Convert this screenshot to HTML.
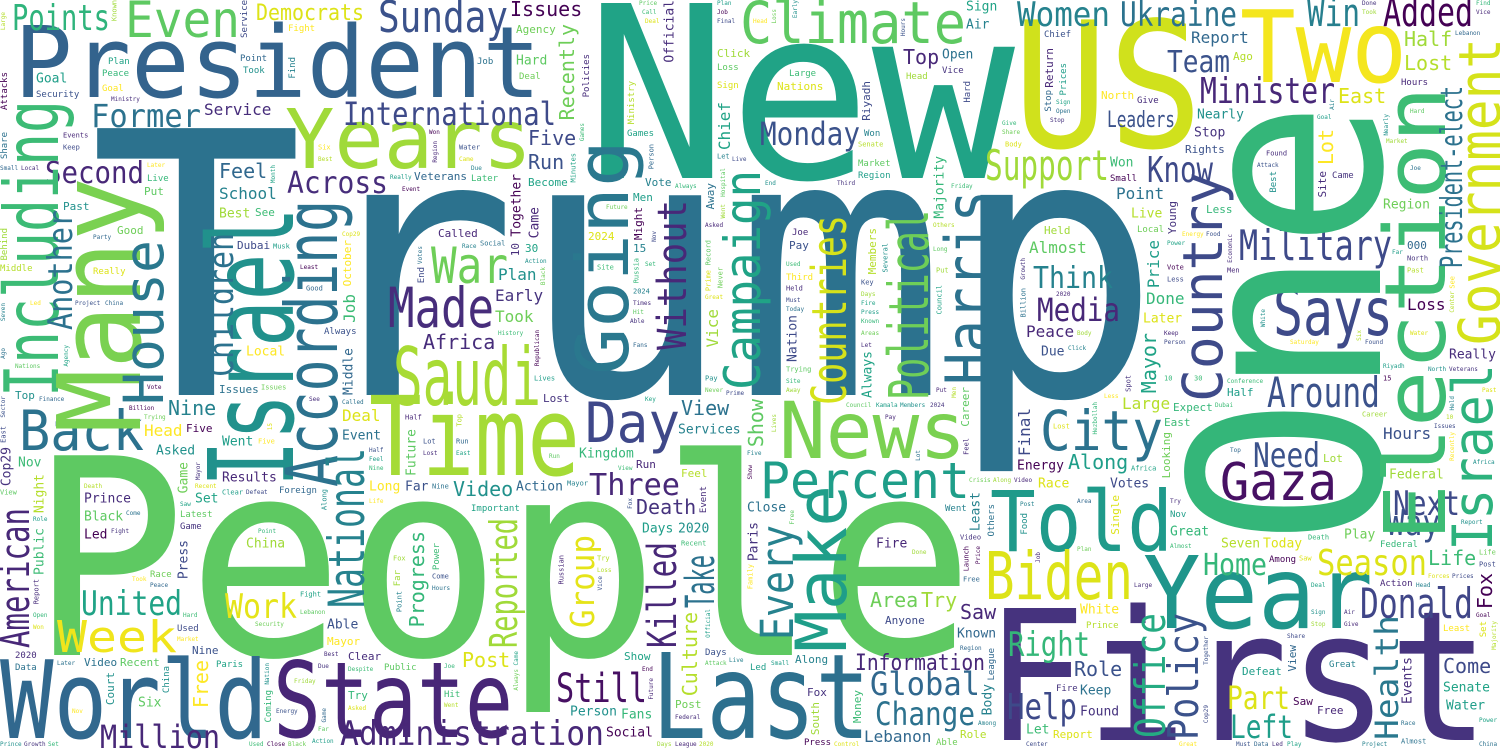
<!DOCTYPE html>
<html><head><meta charset="utf-8"><title>Word Cloud</title>
<style>
html,body{margin:0;padding:0;background:#fff;width:1500px;height:750px;overflow:hidden}
svg{display:block}
text{font-family:"DejaVu Sans Mono","Liberation Mono",monospace}
</style></head>
<body>
<svg id="cloud" xmlns="http://www.w3.org/2000/svg" width="1500" height="750" viewBox="0 0 1500 750">
<rect x="0" y="0" width="1500" height="750" fill="#ffffff"/>
</svg>
<script>
const bigWords=["Trump","People","New","US","Two","First","President","Years","World","State","Last","Time","Saudi","Day","News","Percent","Told","Gaza","Year","Biden","Made","War","Climate","Sunday","Even","Points","Democrats","Former","International","Second","Across","Monday","Support","Minister","Military","Says","Around","Donald","Season","Women","Ukraine","Added","Win","Know","Week","Back","Million","Administration","United","Work","Three","Still","Team","Leaders","Media","Think","City","Need","Next","Way","Right","Help","Left","Part","Home","Global","Change","Information",
"One","Election","Government","President-elect","Israel","Country","Harris","Countries","Political","Make","Every","Office","Policy","Health","Israel","Including","Many","House","According","Going","Campaign","Without","Another","Children","American","National","Reported","Group","Killed","Take"];
const bigX=[89,29,585,1013,1240,985,14,285,0,273,652,369,393,585,779,760,990,1220,1143,985,388,431,740,378,125,12,256,91,343,45,287,760,985,1200,1239,1273,1267,1360,1317,1017,1120,1383,1307,1147,57,19,100,340,81,225,589,556,1167,1107,1037,1033,1040,1253,1393,1387,1008,1007,1230,1227,1203,870,875,855,
1380,1445,1500,1462,1492,1222,990,846,928,846,793,1165,1198,1398,293,58,140,163,337,628,760,686,72,233,29,364,517,594,676,714];
const bigY=[395,655,178,147,82,740,97,168,738,737,738,475,405,442,458,498,551,500,628,599,327,283,43,32,37,30,20,127,125,183,193,145,180,103,260,335,407,618,575,26,26,26,26,182,652,450,748,745,615,618,495,702,72,127,321,288,450,467,515,535,656,719,738,709,575,695,725,670,
546,541,345,268,551,402,385,405,400,652,640,738,740,740,487,397,433,405,487,375,390,350,330,377,648,608,648,628,648,608];
const bigSize=[366,274,240,175,100,181,99,82,108,105,118,110,80,55,78,50,84,52,100,66,55,50,58,44,50,36,22,32,32,30,30,32,42,36,42,66,42,42,36,34,34,40,38,36,44,55,32,34,34,34,30,40,30,22,32,30,55,34,34,36,34,36,32,32,30,32,32,22,
264,85,58,30,55,55,62,48,55,70,45,42,42,32,118,75,115,55,72,72,50,40,34,35,40,50,38,33,40,40];
const bigLen=[1073,946,430,190,167,505,527,247,268,240,218,211,148,95,187,210,183,117,230,148,106,77,226,130,115,98,108,110,213,99,101,100,124,135,153,120,113,113,110,93,117,90,53,66,120,125,120,264,101,72,91,91,63,68,83,80,123,67,67,53,82,70,63,63,64,110,100,130,
446,455,307,182,187,230,195,190,190,167,115,125,127,125,280,297,256,165,287,235,220,150,120,144,140,160,130,93,106,53];
const bigRot=[0,0,0,0,0,0,0,0,0,0,0,0,0,0,0,0,0,0,0,0,0,0,0,0,0,0,0,0,0,0,0,0,0,0,0,0,0,0,0,0,0,0,0,0,0,0,0,0,0,0,0,0,0,0,0,0,0,0,0,0,0,0,0,0,0,0,0,0,
1,1,1,1,1,1,1,1,1,1,1,1,1,1,1,1,1,1,1,1,1,1,1,1,1,1,1,1,1,1];
const bigColor=["#2c728e","#5ec962","#20a386","#d0e11c","#f4e61e","#46337e","#33638d","#a0da39","#31688e","#482677","#2d708e","#a5db36","#a8db34","#3f4889","#7ad151","#1f9e89","#1f9a8a","#471164","#1f958b","#dde318","#472d7b","#6ece58","#5ec962","#3b528b","#5ec962","#2fb47c","#dde318","#2c728e","#3e4a89","#482878","#472d7b","#3b528b","#a0da39","#482878","#3e4a89","#3e4a89","#3b528b","#404688","#dde318","#26828e","#2c728e","#440154","#277f8e","#3e4a89","#f0e51c","#2c728e","#482878","#482878","#20a386","#e5e419","#482878","#471063","#3b528b","#3b528b","#482878","#26828e","#2c728e","#3b528b","#3e4a89","#3b528b","#35b779","#3e4a89","#1f9e89","#dde318","#35b779","#31688e","#2c728e","#482878",
"#34b679","#3dbc74","#d5e21a","#2c728e","#2db27d","#3e4a89","#2c728e","#d5e21a","#6ece58","#1f9e89","#26828e","#25ab82","#3b528b","#2a788e","#21918c","#3cbb75","#7ad151","#2a788e","#2c728e","#2a788e","#20a386","#482878","#2c728e","#2c728e","#482878","#26828e","#a0da39","#e5e419","#482878","#2c728e"];
const fillWords=["Interview","Challenges","Issues","Career","Contact","Recently","Half","Top","Business","Series","Lost","Expect","Opening","East","Five","Looking","Wrote","Lot","Run","Feel","Africa","Single","Anyone","Mayor","Royal","Matter","Nine","View","Clear","Show","Crisis","Along","Video","Death","Recent","Progress","Defeat","Launch","Life","Court","Different","Fox","Area","Russian","Try","Money","Saw","Culture","Post","Family","Come","South","Democratic","Free","Role","Report","Continue","Service","Fight","Chief","School","Point","Almost","Policies","Emissions","Price","Plan","Early","Done","Find","Call","Job","Place","Loss","Forces","Prices","Took","Vice","Peace","Large","Efforts","Attacks","Deal","Final","Head","Hours","Lebanon","Ministry","Thousands","Official","Sign","Air","Open","Hard","Goal","Especially","Security","Nearly","Florida","Stop","Give","Majority","Police","Games","Won","Share","Market","Together","Crucial","Region","Director","Best","Company","Came","Live","Digital","Later","Attack","Small","Nation","Local","Month","Due","Behind","Joe","Middle","Despite","Hospital","Really","End","Third","Always","Services","Foreign","Friday","Event","Important","Future","Officials","Went","Asked","Others","Latest","Cop29","Kingdom","Nov","Energy","Food","Party","Game","Federal","Economic","Results","Power","Among","Night","Race","Votes","Long","Far","Action","Washington","Prince","Growth","Number","Set","Used","Least","Close","Black","Days","League","2020","Paris","Control","Center","Great","Must","Data","Public","Led","Play","Project","China","Leader","Times","Fire","Seven","Today","Coming","Hit","Press","Months","White","Able","Known","History","Events","Cultural","Republican","Senate","Areas","Research","Body","Keep","Six","Water","Person","Saturday","Thursday","Found","Statement","Fans","Minutes","Let","Victory","Social","Agency","Border","Record","Click","Return","Musk","Ago","Nations","Several","Whether","Riyadh","North","Rights","Veterans","Russia","Increase","Site","Conference","Become","Vote","Never","Better","Away","Put","Men","Past","Prime","Field","Young","Less","Sector","Finance","See","Key","Might","Good","Held","Called","Council","Kamala","Members","2024","Hezbollah","Dubai","Billion","Trying","October","Central","Lives","Pay","Spot","000","10","30","15"];
const viridis=["#440154","#482878","#3e4a89","#31688e","#26828e","#1f9e89","#35b779","#6ece58","#b5de2b","#fde725","#472d7b","#2c728e","#21918c","#3cbb75","#a0da39","#dde318","#3b528b","#20a386","#5ec962","#46337e"];

const NS="http://www.w3.org/2000/svg";
const svg=document.getElementById('cloud');
const cv=document.createElement('canvas');cv.width=1500;cv.height=750;
const ctx=cv.getContext('2d');
const FONT='"DejaVu Sans Mono","Liberation Mono",monospace';

for(let i=0;i<bigWords.length;i++){
  const w=bigWords[i],x=bigX[i],y=bigY[i],fs=bigSize[i],len=bigLen[i],rot=bigRot[i];
  const t=document.createElementNS(NS,'text');
  
  
  t.setAttribute('x',x);t.setAttribute('y',y);
  t.setAttribute('font-size',fs);t.setAttribute('fill',bigColor[i]);
  t.setAttribute('textLength',len);t.setAttribute('lengthAdjust','spacingAndGlyphs');
  if(rot)t.setAttribute('transform','rotate(-90 '+x+' '+y+')');
  t.textContent=w;svg.appendChild(t);
  ctx.save();ctx.translate(x,y);if(rot)ctx.rotate(-Math.PI/2);
  ctx.font=fs+'px '+FONT;const m=ctx.measureText(w).width||1;
  ctx.scale(len/m,1);ctx.fillStyle='#000';ctx.fillText(w,0,0);ctx.restore();
}

const C=3,cols=500,rows=250;
let occ=new Uint8Array(cols*rows);
const img=ctx.getImageData(0,0,1500,750).data;
for(let py=0;py<750;py++)for(let px=0;px<1500;px++){if(img[(py*1500+px)*4+3]>40)occ[((py/C)|0)*cols+((px/C)|0)]=1;}
const occ2=new Uint8Array(occ);
for(let r=0;r<rows;r++)for(let c=0;c<cols;c++){if(occ[r*cols+c]){for(let dr=-1;dr<=1;dr++)for(let dc=-1;dc<=1;dc++){const rr=r+dr,cc=c+dc;if(rr>=0&&rr<rows&&cc>=0&&cc<cols)occ2[rr*cols+cc]=1;}}}
occ=occ2;
function free(x0,y0,x1,y1){
  const c0=Math.floor(x0/C),r0=Math.floor(y0/C),c1=Math.ceil(x1/C),r1=Math.ceil(y1/C);
  if(c0<0||r0<0||c1>cols||r1>rows)return false;
  for(let r=r0;r<r1;r++){const b=r*cols;for(let c=c0;c<c1;c++)if(occ[b+c])return false;}
  return true;
}
function mark(x0,y0,x1,y1){
  const c0=Math.floor(x0/C),r0=Math.floor(y0/C),c1=Math.ceil(x1/C),r1=Math.ceil(y1/C);
  for(let r=r0;r<r1;r++)for(let c=c0;c<c1;c++)occ[r*cols+c]=1;
}
const sizes=[20,16,13,11,9,7,6];
let idx=0,count=0;
const nF=fillWords.length;
for(const fs of sizes){
  for(let cy=0;cy<rows;cy++){for(let cx=0;cx<cols;cx++){
    if(occ[cy*cols+cx])continue;
    for(let k=0;k<3;k++){
      const wi=(idx+k)%nF,word=fillWords[wi];
      const w=word.length*0.602*fs,h=fs*1.05;
      const vert=((idx+k)%6===5);
      const x0=cx*C,y0=cy*C;
      let ok;
      if(vert)ok=free(x0,y0,x0+h+2,y0+w+2);else ok=free(x0,y0,x0+w+2,y0+h+2);
      if(ok){
        const t=document.createElementNS(NS,'text');
        
        
        t.setAttribute('font-size',fs);
        t.setAttribute('fill',viridis[(count*7)%viridis.length]);
        if(vert){const tx=x0+fs*0.8,ty=y0+w;t.setAttribute('x',tx);t.setAttribute('y',ty);t.setAttribute('transform','rotate(-90 '+tx+' '+ty+')');mark(x0,y0,x0+h+2,y0+w+2);}
        else{t.setAttribute('x',x0);t.setAttribute('y',y0+fs*0.8);mark(x0,y0,x0+w+2,y0+h+2);}
        t.textContent=word;svg.appendChild(t);
        idx+=k+1;count++;break;
      }
    }
  }}
}
</script>
</body></html>
